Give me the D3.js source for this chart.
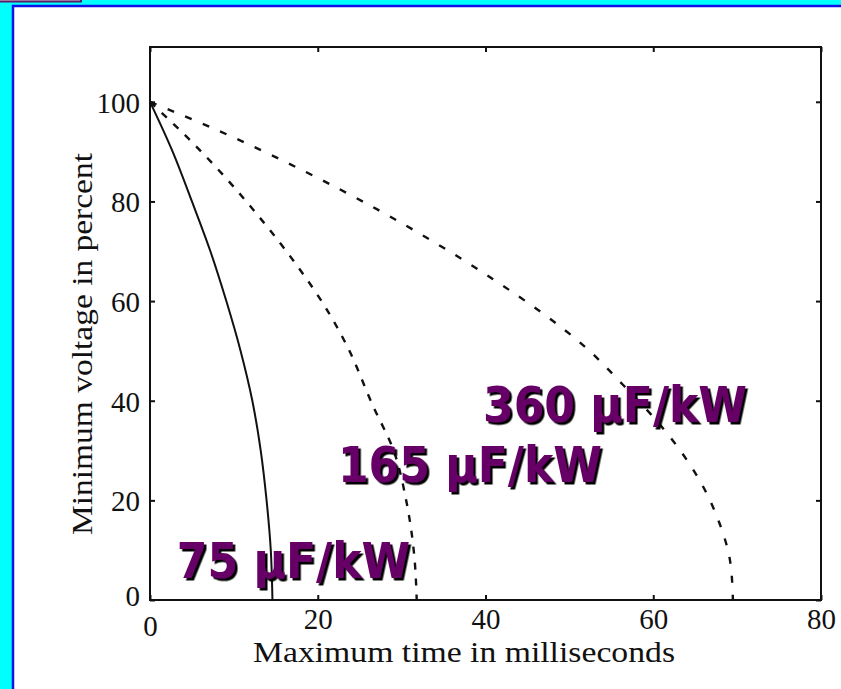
<!DOCTYPE html>
<html>
<head>
<meta charset="utf-8">
<script src="https://cdn.jsdelivr.net/npm/d3@7"></script>
<style>
  body { margin: 0; background: #00ffff; }
  .tick-label { font-family: "Liberation Serif", "Times New Roman", serif; font-size: 29px; fill: #111; }
  .axis-title { font-family: "Liberation Serif", "Times New Roman", serif; font-size: 30px; fill: #111; }
  .curve-label { font-family: "DejaVu Sans Condensed", "DejaVu Sans", sans-serif; font-stretch: condensed; font-weight: bold; font-size: 49px; }
</style>
</head>
<body>
<div id="chart"></div>
<script>
// values: time (ms) vs minimum voltage (%)
const xTicks = [0, 20, 40, 60, 80];
const yTicks = [0, 20, 40, 60, 80, 100];

const t75 = [0, 2.7, 5.0, 7.2, 9.1, 10.8, 12.2, 13.2, 13.9, 14.4, 14.6];
const v75 = [100, 90, 80, 70, 60, 50, 40, 30, 20, 10, 0];

const t165 = [0, 4.6, 9.1, 13.5, 17.5, 21.3, 23.4, 26.6, 29.0, 30.6, 31.5, 31.8];
const v165 = [100, 92.6, 84.6, 75.9, 67.2, 57.7, 51.3, 38.9, 30.2, 19.5, 9, 0];

const t360 = [0, 8.3, 18.0, 27.2, 34.1, 40.9, 51.8, 56.5, 60.8, 65.6, 67.9, 69.2, 69.5];
const v360 = [100, 94.1, 86.4, 78.3, 71.6, 64.4, 50.9, 43, 35.2, 23.8, 15.4, 7.4, 0];

const curveNames = ["75 μF/kW", "165 μF/kW", "360 μF/kW"];

const W = 841, H = 689;
const plot = { left: 150, right: 821, top: 47, bottom: 600 };

const svg = d3.select("#chart").append("svg")
  .attr("width", W)
  .attr("height", H);

// drop shadow for the purple labels
const shadow = svg.append("defs").append("filter")
  .attr("id", "shadow")
  .attr("x", "-5%").attr("y", "-20%")
  .attr("width", "115%").attr("height", "150%");
shadow.append("feDropShadow")
  .attr("dx", 2.5).attr("dy", 2.5)
  .attr("stdDeviation", 0.3)
  .attr("flood-color", "#000")
  .attr("flood-opacity", 1);

// slide background
svg.append("rect").attr("width", W).attr("height", H).attr("fill", "#00ffff");
svg.append("rect")
  .attr("x", 13).attr("y", 6)
  .attr("width", W).attr("height", H)
  .attr("fill", "#fff")
  .attr("stroke", "#1010e8")
  .attr("stroke-width", 2.5);
// small box peeking in top-left
svg.append("rect")
  .attr("x", -4).attr("y", -10)
  .attr("width", 85).attr("height", 11.5)
  .attr("fill", "#d8d8d8")
  .attr("stroke", "#5c1a6a")
  .attr("stroke-width", 2);

const x = d3.scaleLinear().domain([0, 80]).range([plot.left, plot.right]);
const y = d3.scaleLinear().domain([0, 111]).range([plot.bottom, plot.top]);

const g = svg.append("g");

// frame
g.append("rect")
  .attr("x", plot.left).attr("y", plot.top)
  .attr("width", plot.right - plot.left)
  .attr("height", plot.bottom - plot.top)
  .attr("fill", "none")
  .attr("stroke", "#111")
  .attr("stroke-width", 2);

// inward ticks on all four sides, matlab style
const tickLen = 5;
const xAxisB = g.append("g").attr("transform", `translate(0,${plot.bottom})`)
  .call(d3.axisBottom(x).tickValues(xTicks).tickSize(-tickLen).tickPadding(8).tickFormat(d3.format("d")));
const xAxisT = g.append("g").attr("transform", `translate(0,${plot.top})`)
  .call(d3.axisTop(x).tickValues(xTicks).tickSize(-tickLen).tickFormat(""));
const yAxisL = g.append("g").attr("transform", `translate(${plot.left},0)`)
  .call(d3.axisLeft(y).tickValues(yTicks).tickSize(-tickLen).tickPadding(10).tickFormat(d3.format("d")));
const yAxisR = g.append("g").attr("transform", `translate(${plot.right},0)`)
  .call(d3.axisRight(y).tickValues(yTicks).tickSize(-tickLen).tickFormat(""));

[xAxisB, xAxisT, yAxisL, yAxisR].forEach(a => {
  a.select(".domain").remove();
  a.selectAll(".tick line").attr("stroke", "#111").attr("stroke-width", 2);
  a.selectAll(".tick text").attr("class", "tick-label").attr("font-size", null).attr("font-family", null).attr("fill", null);
});
yAxisL.selectAll(".tick text").attr("dy", "0.36em");
// the zero labels sit a bit off the corner
yAxisL.selectAll(".tick").filter(d => d === 0).select("text").attr("dy", "0.2em");
xAxisB.selectAll(".tick").filter(d => d === 0).select("text").attr("dy", "0.95em");

// axis titles
svg.append("text")
  .attr("class", "axis-title")
  .attr("x", 464).attr("y", 662)
  .attr("text-anchor", "middle")
  .attr("textLength", 422)
  .attr("lengthAdjust", "spacingAndGlyphs")
  .text("Maximum time in milliseconds");

svg.append("text")
  .attr("class", "axis-title")
  .attr("transform", "translate(92,344) rotate(-90)")
  .attr("text-anchor", "middle")
  .attr("textLength", 382)
  .attr("lengthAdjust", "spacingAndGlyphs")
  .text("Minimum voltage in percent");

// curves: time is a function of voltage, so interpolate along y
const line = d3.line()
  .x(d => x(d[0]))
  .y(d => y(d[1]))
  .curve(d3.curveMonotoneY);

const series = [
  { t: t75, v: v75, dash: null, width: 2 },
  { t: t165, v: v165, dash: "7,9", width: 2.4 },
  { t: t360, v: v360, dash: "7,12", width: 2.4 }
];

g.selectAll(".curve")
  .data(series)
  .enter()
  .append("path")
  .attr("class", "curve")
  .attr("d", s => line(d3.zip(s.t, s.v)))
  .attr("fill", "none")
  .attr("stroke", "#111")
  .attr("stroke-width", s => s.width)
  .attr("stroke-dasharray", s => s.dash);

// purple labels with a black drop shadow
const labelPos = [[3.2, 4.4], [22.4, 23.7], [39.7, 35.8]];
svg.append("g").selectAll(".curve-label")
  .data(curveNames)
  .enter()
  .append("text")
  .attr("class", "curve-label")
  .attr("x", (d, i) => x(labelPos[i][0]))
  .attr("y", (d, i) => y(labelPos[i][1]))
  .attr("fill", "#660066")
  .attr("filter", "url(#shadow)")
  .text(d => d);
</script>
</body>
</html>
